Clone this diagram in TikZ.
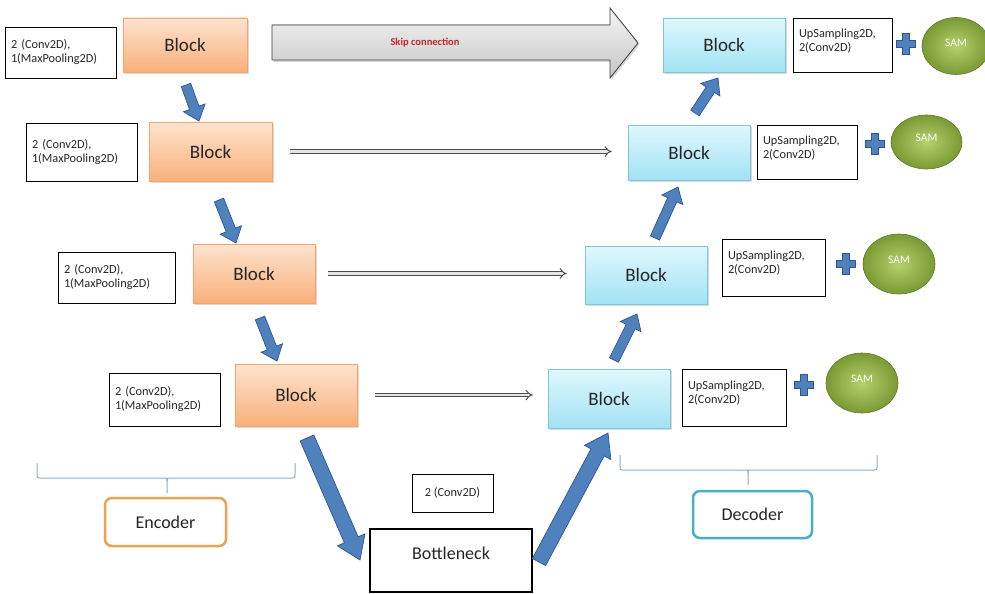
\documentclass[tikz,border=0pt]{standalone}
\usepackage{fontspec}
\setmainfont{Carlito}
\usetikzlibrary{calc,arrows.meta,shadows,shapes.geometric}
\definecolor{encTop}{HTML}{FDE3CF}
\definecolor{encBot}{HTML}{F9B07A}
\definecolor{encLine}{HTML}{F2A66C}
\definecolor{decTop}{HTML}{E0F7FD}
\definecolor{decBot}{HTML}{A2E2F4}
\definecolor{decLine}{HTML}{7FC6DB}
\definecolor{arrBlue}{HTML}{4F81BD}
\definecolor{arrEdge}{HTML}{2F5597}
\definecolor{samIn}{HTML}{B5D16A}
\definecolor{samOut}{HTML}{7A9A35}
\definecolor{samEdge}{HTML}{5E7A26}
\definecolor{braceC}{HTML}{8EAACB}
\definecolor{encOr}{HTML}{F0A050}
\definecolor{decTeal}{HTML}{4BACC6}
\definecolor{skipRed}{HTML}{C0282D}
\definecolor{txt}{HTML}{262626}
\newcommand\fatarr[5]{%
  \coordinate (fah) at ($(#2)!#5pt!(#1)$);
  \filldraw[fatarrow] ($(#1)!#3pt!90:(#2)$) -- ($(fah)!#3pt!90:(#2)$) -- ($(fah)!#4pt!90:(#2)$)
    -- (#2) -- ($(fah)!#4pt!-90:(#2)$) -- ($(fah)!#3pt!-90:(#2)$) -- ($(#1)!#3pt!-90:(#2)$) -- cycle;}
\begin{document}
\begin{tikzpicture}[x=1pt,y=-1pt,
  blockf/.style={font=\fontsize{19}{22}\selectfont, text=txt},
  smallf/.style={font=\fontsize{12.3}{14}\selectfont, text=txt},
  encblock/.style={blockf, draw=encLine, line width=0.6pt, top color=encTop, bottom color=encBot,
     drop shadow={shadow xshift=1.5pt, shadow yshift=-2pt, opacity=0.3}},
  decblock/.style={blockf, draw=decLine, line width=0.6pt, top color=decTop, bottom color=decBot,
     drop shadow={shadow xshift=1.5pt, shadow yshift=-2pt, opacity=0.3}},
  tbox/.style={smallf, draw=black, line width=0.7pt, fill=white, inner xsep=6pt, align=left},
  sam/.style={ellipse, draw=samEdge, line width=0.6pt, inner color=samIn, outer color=samOut, text=white,
     font=\fontsize{11.5}{13}\selectfont, inner sep=0pt},
  fatarrow/.style={fill=arrBlue, draw=arrEdge, line width=0.7pt},
  thinskip/.style={draw=gray!60!black, double=gray!20, double distance=2.6pt, line width=1pt, -{Implies}},
  bracel/.style={draw=braceC, line width=1pt},
  plusc/.style={fill=arrBlue, draw=arrEdge, line width=0.6pt},
  pics/plussign/.style={code={\filldraw[plusc] (-3.5,-10.5) -- (3.5,-10.5) -- (3.5,-3.5) -- (9.5,-3.5) -- (9.5,3.5)
     -- (3.5,3.5) -- (3.5,10.5) -- (-3.5,10.5) -- (-3.5,3.5) -- (-9.5,3.5) -- (-9.5,-3.5) -- (-3.5,-3.5) -- cycle;}}
]
\useasboundingbox (0,0) rectangle (985,594);

% encoder blocks
\node[encblock, minimum width=124pt, minimum height=54pt] (e1) at (185,45) {Block};
\node[encblock, minimum width=123pt, minimum height=59pt] (e2) at (210.5,151.5) {Block};
\node[encblock, minimum width=122pt, minimum height=59pt] (e3) at (254,273.5) {Block};
\node[encblock, minimum width=122pt, minimum height=62pt] (e4) at (296,395) {Block};

% encoder text boxes
\node[tbox, text width=99pt, minimum height=51pt] (t1) at (60.5,52.5) {2 (Conv2D),\\1(MaxPooling2D)};
\node[tbox, text width=99pt, minimum height=58pt] (t2) at (81.5,152) {2 (Conv2D),\\1(MaxPooling2D)};
\node[tbox, text width=105pt, minimum height=51pt] (t3) at (116.5,277.5) {2 (Conv2D),\\1(MaxPooling2D)};
\node[tbox, text width=99pt, minimum height=53pt] (t4) at (164.5,399.5) {2 (Conv2D),\\1(MaxPooling2D)};

% decoder blocks
\node[decblock, minimum width=122pt, minimum height=54pt] (d1) at (724,45) {Block};
\node[decblock, minimum width=122pt, minimum height=55pt] (d2) at (689,152.5) {Block};
\node[decblock, minimum width=122pt, minimum height=58pt] (d3) at (646,275) {Block};
\node[decblock, minimum width=122pt, minimum height=59pt] (d4) at (609,398.5) {Block};

% decoder text boxes
\node[tbox, text width=87pt, minimum height=54pt] (u1) at (842.5,45) {UpSampling2D,\\2(Conv2D)\rule[-10pt]{0pt}{0pt}};
\node[tbox, text width=88pt, minimum height=54pt] (u2) at (807,152) {UpSampling2D,\\2(Conv2D)\rule[-10pt]{0pt}{0pt}};
\node[tbox, text width=91pt, minimum height=57pt] (u3) at (773.5,267.5) {UpSampling2D,\\2(Conv2D)\rule[-10pt]{0pt}{0pt}};
\node[tbox, text width=92pt, minimum height=57pt] (u4) at (734,397.5) {UpSampling2D,\\2(Conv2D)\rule[-10pt]{0pt}{0pt}};

% plus signs
\pic at (906,44) {plussign};
\pic at (875,144) {plussign};
\pic at (846,264) {plussign};
\pic at (804,385) {plussign};

% SAM ellipses
\node[sam, minimum width=68pt, minimum height=57pt] (s1) at (956,46) {SAM\rule[-6pt]{0pt}{0pt}};
\node[sam, minimum width=71pt, minimum height=54pt] (s2) at (926.5,142) {SAM\rule[-8pt]{0pt}{0pt}};
\node[sam, minimum width=72pt, minimum height=60pt] (s3) at (899,264) {SAM\rule[-8pt]{0pt}{0pt}};
\node[sam, minimum width=72pt, minimum height=60pt] (s4) at (862,383) {SAM\rule[-8pt]{0pt}{0pt}};

% bottleneck
\node[draw=black, line width=2.5pt, fill=white, minimum width=162pt, minimum height=63pt,
      font=\fontsize{18}{20}\selectfont, text=txt] (bn) at (451,560.5) {Bottleneck\rule[-14pt]{0pt}{0pt}};
\node[tbox, inner xsep=0pt, minimum width=81pt, minimum height=38pt, align=center] (bc) at (452.5,493) {2 (Conv2D)};

% big skip connection arrow
\filldraw[draw=black!75, line width=0.8pt, top color=gray!8, bottom color=gray!45,
   drop shadow={shadow xshift=1.5pt, shadow yshift=-2pt, opacity=0.3}]
   (272,25) -- (610,25) -- (610,8) -- (638,43) -- (610,78) -- (610,60) -- (272,60) -- cycle;
\node[text=skipRed, font=\fontsize{10.5}{12}\selectfont\bfseries] (skl) at (425,42.5) {Skip connection};

% thin skip arrows
\draw[thinskip, shorten <=18pt, shorten >=16pt] (e2.east) -- (e2.east -| d2.west);
\draw[thinskip, shorten <=13pt, shorten >=18pt] (e3.east) -- (e3.east -| d3.west);
\draw[thinskip, shorten <=18pt, shorten >=15pt] (e4.east) -- (e4.east -| d4.west);

% blue arrows
\coordinate (a1s) at (186,85);  \coordinate (a1e) at (199,121);
\coordinate (a2s) at (219,200); \coordinate (a2e) at (236,243);
\coordinate (a3s) at (260,318); \coordinate (a3e) at (277,361);
\coordinate (a4s) at (307,438); \coordinate (a4e) at (360,560);
\coordinate (a5s) at (539,562); \coordinate (a5e) at (608,433);
\coordinate (a6s) at (614,360); \coordinate (a6e) at (637,314);
\coordinate (a7s) at (655,238); \coordinate (a7e) at (678,187);
\coordinate (a8s) at (695,113); \coordinate (a8e) at (718,78);
\fatarr{a1s}{a1e}{5}{11.5}{14}
\fatarr{a2s}{a2e}{5}{11.5}{14}
\fatarr{a3s}{a3e}{5}{11.5}{14}
\fatarr{a4s}{a4e}{7.5}{15}{22}
\fatarr{a5s}{a5e}{7.5}{15}{22}
\fatarr{a6s}{a6e}{5}{11.5}{14}
\fatarr{a7s}{a7e}{5}{11.5}{14}
\fatarr{a8s}{a8e}{5}{11.5}{14}

% braces
\draw[bracel] (37,463) -- (37,475) .. controls (37,478) .. (40,478) -- (164,478) .. controls (167,478) .. (167,481) -- (167,493);
\draw[bracel] (167,481) .. controls (167,478) .. (170,478) -- (292,478) .. controls (295,478) .. (295,475) -- (295,463);
\draw[bracel] (620,455) -- (620,467) .. controls (620,470) .. (623,470) -- (745,470) .. controls (748,470) .. (748,473) -- (748,485);
\draw[bracel] (748,473) .. controls (748,470) .. (751,470) -- (874,470) .. controls (877,470) .. (877,467) -- (877,455);

% encoder / decoder labels
\node[draw=encOr, line width=2.5pt, rounded corners=7pt, fill=white, minimum width=121pt, minimum height=48pt,
      font=\fontsize{18}{20}\selectfont, text=txt] (enc) at (165.5,522) {Encoder};
\node[draw=decTeal, line width=2.5pt, rounded corners=7pt, fill=white, minimum width=119pt, minimum height=47pt,
      font=\fontsize{18}{20}\selectfont, text=txt] (dec) at (752.5,514.5) {Decoder};
\end{tikzpicture}
\end{document}
